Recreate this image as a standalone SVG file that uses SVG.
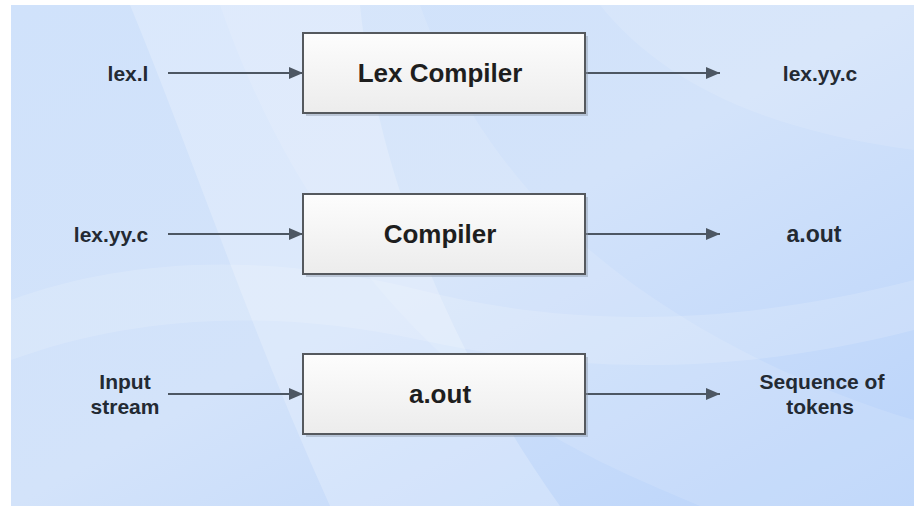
<svg xmlns="http://www.w3.org/2000/svg" width="914" height="506" viewBox="0 0 914 506">
<defs>
<linearGradient id="bg" x1="0" y1="0" x2="1" y2="1">
<stop offset="0" stop-color="#d0e2fb"/>
<stop offset="0.5" stop-color="#d3e3fa"/>
<stop offset="1" stop-color="#b9d3fa"/>
</linearGradient>
<linearGradient id="boxfill" x1="0" y1="0" x2="0" y2="1">
<stop offset="0" stop-color="#fdfdfd"/>
<stop offset="1" stop-color="#ececec"/>
</linearGradient>
<marker id="arrow" viewBox="0 0 14 12" refX="14" refY="6" markerWidth="14" markerHeight="12" markerUnits="userSpaceOnUse" orient="auto">
<path d="M0,0 L14,6 L0,12 z" fill="#4d5763"/>
</marker>
</defs>
<style>
.box{fill:url(#boxfill);stroke:#55595e;stroke-width:2}
.shadow{fill:#8e9aa8;opacity:0.45}
.btxt{font-family:"Liberation Sans",Arial,sans-serif;font-weight:bold;font-size:26px;fill:#1e1e1e;text-anchor:middle}
.ltxt{font-family:"Liberation Sans",Arial,sans-serif;font-weight:bold;font-size:21px;fill:#232a33;text-anchor:middle}
.conn{stroke:#4d5763;stroke-width:2;fill:none;marker-end:url(#arrow)}
</style>
<rect x="0" y="0" width="914" height="506" fill="#ffffff"/>
<g id="background">
<rect x="11" y="5" width="903" height="501" fill="url(#bg)"/>
<path d="M130,5 C190,150 250,330 330,506 L560,506 C470,380 380,200 360,5 Z" fill="#ffffff" opacity="0.22"/>
<path d="M220,5 C260,120 330,260 470,380 C560,450 640,480 700,506 L914,506 L914,420 C780,380 620,300 520,180 C470,120 440,60 420,5 Z" fill="#ffffff" opacity="0.12"/>
<path d="M11,300 C120,260 260,250 420,290 C560,325 720,330 914,280 L914,330 C720,380 560,370 420,340 C260,305 120,320 11,360 Z" fill="#ffffff" opacity="0.15"/>
<path d="M600,5 C660,80 760,130 914,150 L914,5 Z" fill="#ffffff" opacity="0.12"/>
</g>
<g id="connectors">
<line class="conn" x1="168" y1="73" x2="303" y2="73"/>
<line class="conn" x1="585" y1="73" x2="720" y2="73"/>
<line class="conn" x1="168" y1="234" x2="303" y2="234"/>
<line class="conn" x1="585" y1="234" x2="720" y2="234"/>
<line class="conn" x1="168" y1="394" x2="303" y2="394"/>
<line class="conn" x1="585" y1="394" x2="720" y2="394"/>
</g>
<g id="node-lex-compiler">
<rect class="shadow" x="306" y="36" width="282" height="80"/>
<rect class="box" x="303" y="33" width="282" height="80"/>
<text class="btxt" x="440" y="82">Lex Compiler</text>
</g>
<g id="node-compiler">
<rect class="shadow" x="306" y="197" width="282" height="80"/>
<rect class="box" x="303" y="194" width="282" height="80"/>
<text class="btxt" x="440" y="243">Compiler</text>
</g>
<g id="node-aout">
<rect class="shadow" x="306" y="357" width="282" height="80"/>
<rect class="box" x="303" y="354" width="282" height="80"/>
<text class="btxt" x="440" y="403">a.out</text>
</g>
<g id="label-lexl"><text class="ltxt" x="128" y="81">lex.l</text></g>
<g id="label-lexyyc-out"><text class="ltxt" x="820" y="81">lex.yy.c</text></g>
<g id="label-lexyyc-in"><text class="ltxt" x="111" y="242">lex.yy.c</text></g>
<g id="label-aout-out"><text class="ltxt" x="814" y="242" style="font-size:23px">a.out</text></g>
<g id="label-input-stream"><text class="ltxt" x="125" y="389">Input</text><text class="ltxt" x="125" y="414">stream</text></g>
<g id="label-sequence"><text class="ltxt" x="822" y="389">Sequence of</text><text class="ltxt" x="820" y="414">tokens</text></g>
</svg>
